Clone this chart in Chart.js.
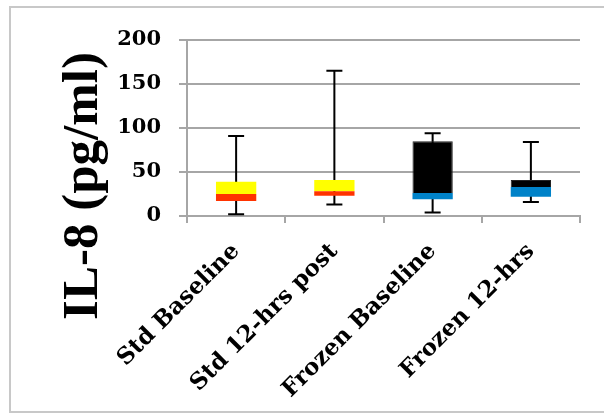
<!DOCTYPE html>
<html>
<head>
<meta charset="utf-8">
<script src="https://cdn.jsdelivr.net/npm/chart.js@4"></script>
<style>
  body { margin: 0; background: #fff; }
  #wrap { position: relative; width: 604px; height: 413px; overflow: hidden; }
  #frame { position: absolute; left: 9px; top: 6px; width: 700px; height: 403px; border: 2px solid #c8c8c8; }
  canvas { position: absolute; left: 0; top: 0; }
</style>
</head>
<body>
<div id="wrap">
  <div id="frame"></div>
  <canvas id="boxChart" width="604" height="413"></canvas>
</div>
<script>
const categories = ["Std Baseline", "Std 12-hrs post", "Frozen Baseline", "Frozen 12-hrs"];
const minVals = [2, 13, 4, 16];
const q1Vals = [17, 23, 19, 22];
const medianVals = [25, 28, 26, 33];
const q3Vals = [39, 41, 85, 41];
const maxVals = [91, 165, 94, 84];
const yTicks = [0, 50, 100, 150, 200];

const lowerColors = ["#ff3300", "#ff3300", "#0082c8", "#0082c8"];
const upperColors = ["#ffff00", "#ffff00", "#000000", "#000000"];

// whiskers drawn before the boxes so boxes cover the middle part
const whiskers = {
  id: "whiskers",
  beforeDatasetsDraw(chart) {
    const ctx = chart.ctx;
    const xs = chart.scales.x, ys = chart.scales.y;
    ctx.save();
    ctx.strokeStyle = "#000";
    ctx.lineWidth = 2;
    categories.forEach((c, i) => {
      const x = xs.getPixelForValue(i);
      const top = ys.getPixelForValue(maxVals[i]);
      const bot = ys.getPixelForValue(minVals[i]);
      ctx.beginPath();
      ctx.moveTo(x, top); ctx.lineTo(x, bot);
      ctx.moveTo(x - 8, top); ctx.lineTo(x + 8, top);
      ctx.moveTo(x - 8, bot); ctx.lineTo(x + 8, bot);
      ctx.stroke();
    });
    ctx.restore();
  }
};

const yTitle = {
  id: "yTitle",
  afterDraw(chart) {
    const ctx = chart.ctx;
    ctx.save();
    ctx.translate(97, 186);
    ctx.rotate(-Math.PI / 2);
    ctx.font = "bold 51px 'Liberation Serif'";
    ctx.fillStyle = "#000";
    ctx.textAlign = "center";
    ctx.textBaseline = "alphabetic";
    ctx.fillText("IL-8 (pg/ml)", 0, 0);
    ctx.restore();
  }
};

new Chart(document.getElementById("boxChart"), {
  type: "bar",
  data: {
    labels: categories,
    datasets: [
      {
        label: "base",
        data: q1Vals,
        backgroundColor: "rgba(0,0,0,0)"
      },
      {
        label: "lower",
        data: medianVals.map((m, i) => m - q1Vals[i]),
        backgroundColor: lowerColors
      },
      {
        label: "upper",
        data: q3Vals.map((q, i) => q - medianVals[i]),
        backgroundColor: upperColors,
        borderColor: "#222",
        borderWidth: [0, 0, 1, 1]
      }
    ]
  },
  options: {
    responsive: false,
    animation: false,
    barPercentage: 0.41,
    categoryPercentage: 1,
    layout: { padding: { top: 40, right: 24, left: 0, bottom: 0 } },
    plugins: { legend: { display: false }, tooltip: { enabled: false } },
    scales: {
      x: {
        stacked: true,
        afterFit: s => { s.height = 197; },
        grid: { offset: true, drawOnChartArea: false, color: "#a6a6a6", lineWidth: 2, tickLength: 7 },
        border: { color: "#a6a6a6", width: 2 },
        ticks: {
          minRotation: 45, maxRotation: 45, padding: 15, color: "#000",
          font: { family: "'DejaVu Serif'", weight: "bold", size: 23 }
        }
      },
      y: {
        stacked: true,
        min: 0, max: 200,
        afterFit: s => { s.width = 187; },
        afterBuildTicks: s => { s.ticks = yTicks.map(v => ({ value: v })); },
        grid: { color: "#a6a6a6", lineWidth: 2, tickLength: 8 },
        border: { color: "#a6a6a6", width: 2 },
        ticks: {
          padding: 18, color: "#000",
          font: { family: "'DejaVu Serif'", weight: "bold", size: 21 }
        }
      }
    }
  },
  plugins: [whiskers, yTitle]
});
</script>
</body>
</html>
